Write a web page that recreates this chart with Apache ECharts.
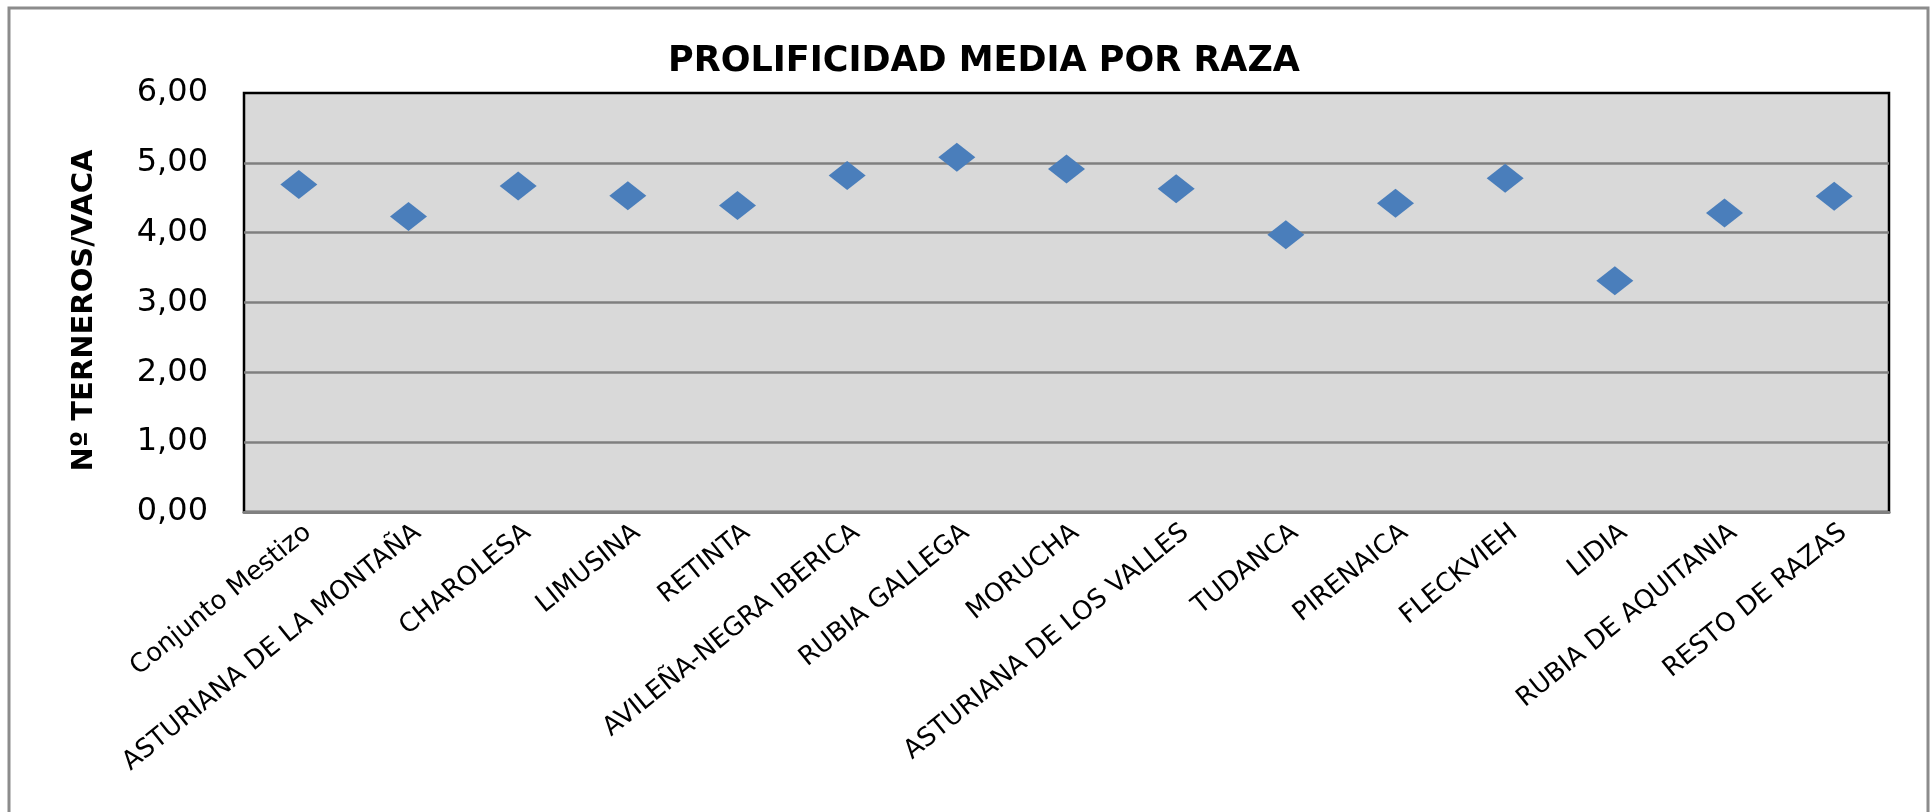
<!DOCTYPE html>
<html>
<head>
<meta charset="utf-8">
<title>Prolificidad media por raza</title>
<script src="https://cdn.jsdelivr.net/npm/echarts@6/dist/echarts.min.js"></script>
<style>
html, body { margin: 0; padding: 0; background: #fff; }
#chart { width: 1930px; height: 812px; }
</style>
</head>
<body>
<div id="chart"></div>
<script>
// razas (eje x)
const razas = [
	"Conjunto Mestizo", "ASTURIANA DE LA MONTAÑA", "CHAROLESA", "LIMUSINA", "RETINTA",
	"AVILEÑA-NEGRA IBERICA", "RUBIA GALLEGA", "MORUCHA", "ASTURIANA DE LOS VALLES", "TUDANCA",
	"PIRENAICA", "FLECKVIEH", "LIDIA", "RUBIA DE AQUITANIA", "RESTO DE RAZAS"
];
// prolificidad media (terneros por vaca)
const prolificidad = [4.69, 4.23, 4.67, 4.53, 4.39, 4.82, 5.08, 4.91, 4.63, 3.97, 4.42, 4.78, 3.31, 4.28, 4.52];
// etiquetas del eje y
const yTicks = ["0,00", "1,00", "2,00", "3,00", "4,00", "5,00", "6,00"];

const myChart = echarts.init(document.getElementById("chart"));
const labelFont = "'DejaVu Sans', sans-serif";

const option = {
	backgroundColor: "#fff",
	animation: false,
	title: {
		text: "PROLIFICIDAD MEDIA POR RAZA",
		left: 979,
		textAlign: "center",
		top: 39,
		textStyle: {
			fontFamily: labelFont,
			fontWeight: "bold",
			fontSize: 35,
			color: "#000"
		}
	},
	// marco exterior
	graphic: [
		{
			type: "rect",
			shape: { x: 9, y: 8, width: 1919, height: 830 },
			style: { fill: "none", stroke: "#8c8c8c", lineWidth: 3 },
			silent: true
		}
	],
	grid: {
		left: 244,
		right: 41,
		top: 93,
		bottom: 300,
		show: true,
		backgroundColor: "#d9d9d9",
		borderColor: "#000",
		borderWidth: 2.5
	},
	xAxis: {
		type: "category",
		data: razas,
		boundaryGap: true,
		axisTick: { show: false },
		axisLine: {
			show: true,
			lineStyle: { color: "#808080", width: 3 }
		},
		axisLabel: {
			interval: 0,
			rotate: 39,
			margin: 25,
			padding: [0, -12, 0, 0],
			color: "#000",
			fontFamily: labelFont,
			fontSize: 26
		}
	},
	yAxis: {
		type: "value",
		min: 0,
		max: 6,
		interval: 1,
		name: "Nº TERNEROS/VACA",
		nameLocation: "middle",
		nameRotate: 90,
		nameGap: 145,
		nameTextStyle: {
			fontFamily: labelFont,
			fontWeight: "bold",
			fontSize: 29,
			color: "#000",
			padding: [0, 16, 0, 0]
		},
		axisLine: { show: false },
		axisTick: { show: false },
		splitLine: {
			show: true,
			showMinLine: false,
			showMaxLine: false,
			lineStyle: { color: "#7f7f7f", width: 2.5 }
		},
		axisLabel: {
			margin: 36,
			color: "#000",
			fontFamily: labelFont,
			fontSize: 32,
			formatter: (v) => yTicks[Math.round(v)]
		}
	},
	series: [
		{
			name: "Prolificidad",
			type: "scatter",
			data: prolificidad,
			symbol: "diamond",
			symbolSize: [37, 29],
			itemStyle: { color: "#4a7ebb", opacity: 1 }
		}
	]
};
myChart.setOption(option);
</script>
</body>
</html>
